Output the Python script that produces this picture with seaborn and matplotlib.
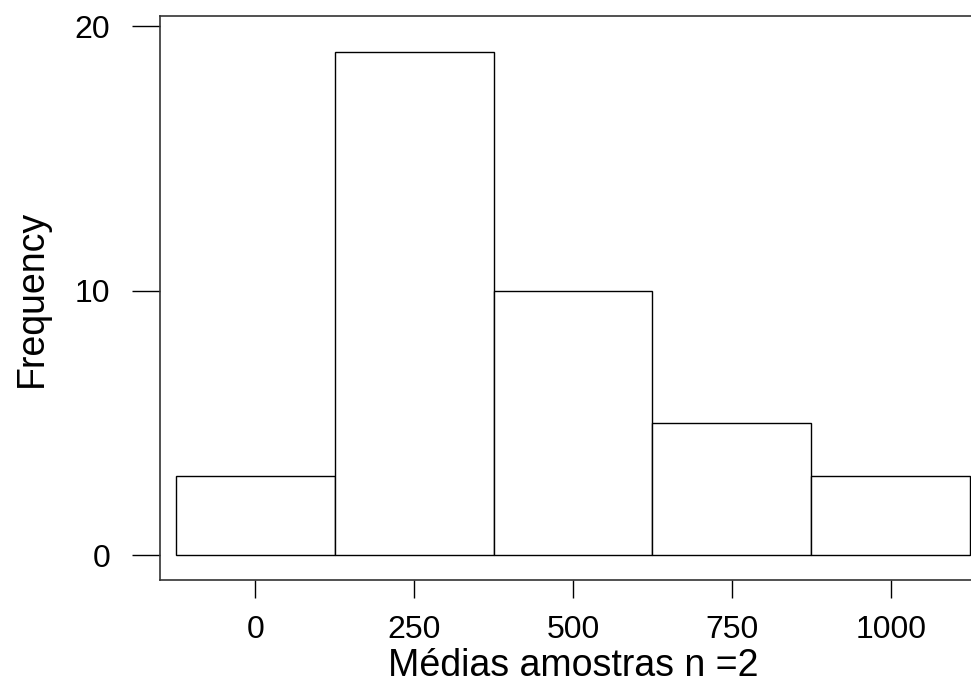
import numpy as np
import pandas as pd
import seaborn as sns
import matplotlib
matplotlib.use("Agg")
import matplotlib.pyplot as plt

# bin centres and counts
centers = [0, 250, 500, 750, 1000]
counts = [3, 19, 10, 5, 3]
bin_edges = [-125, 125, 375, 625, 875, 1125]
x_ticks = [0, 250, 500, 750, 1000]
y_ticks = [0, 10, 20]

sns.set_style("white")
plt.rcParams['font.family'] = ['Liberation Sans', 'DejaVu Sans']
plt.rcParams['text.color'] = 'black'
plt.rcParams['axes.labelcolor'] = 'black'
plt.rcParams['xtick.color'] = 'black'
plt.rcParams['ytick.color'] = 'black'

df = pd.DataFrame({'media': centers, 'freq': counts})

fig = plt.figure(figsize=(9.71, 6.89), dpi=100)
ax = fig.add_axes([160/971, 1 - 580/689, (986 - 160)/971, (580 - 16)/689])

sns.histplot(data=df, x='media', weights='freq', bins=bin_edges,
             color='white', edgecolor='black', linewidth=1.0, alpha=1, ax=ax)

ax.set_xlim(-150, 1150)
ax.set_ylim(-0.945, 20.38)
ax.set_xticks(x_ticks)
ax.set_yticks(y_ticks)
ax.tick_params(axis='y', direction='out', length=20, width=1.0, color='black',
               pad=16, labelsize=23, left=True)
ax.tick_params(axis='x', direction='out', length=13, width=1.0, color='black',
               pad=12, labelsize=23, bottom=True)
for s in ax.spines.values():
    s.set_color('#333333')
    s.set_linewidth(1.2)

ax.set_xlabel('Médias amostras n =2', fontsize=27, labelpad=2)
ax.set_ylabel('Frequency', fontsize=27, labelpad=18)

fig.savefig('out.png', dpi=100)
